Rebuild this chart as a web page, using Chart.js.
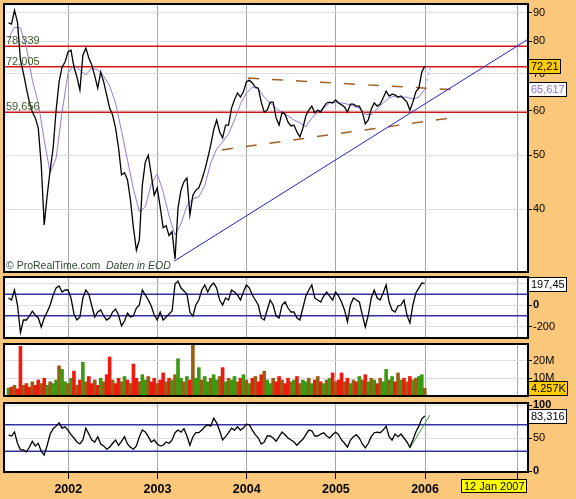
<!DOCTYPE html>
<html><head><meta charset="utf-8">
<script src="https://cdn.jsdelivr.net/npm/chart.js@4.4.0/dist/chart.umd.min.js"></script>
<style>
html,body{margin:0;padding:0;background:#fbc87b;}
#wrap{position:relative;width:576px;height:499px;overflow:hidden;background:#fbc87b;}
canvas{position:absolute;left:0;top:0;}
</style></head><body>
<div id="wrap">
<canvas id="c4" width="576" height="499"></canvas>
<canvas id="c3" width="576" height="499"></canvas>
<canvas id="c2" width="576" height="499"></canvas>
<canvas id="c1" width="576" height="499"></canvas>
</div>
<script>
// ---------------- DATA ----------------
const startYear = 2001.33;          // first sample date (decimal year)
const stepYears = 1/30;             // sample spacing (~12 days)
const yearTicks = [2002, 2003, 2004, 2005, 2006, 2007.04];
const priceTicks = [40, 50, 60, 70, 80, 90];
const cciTicks = [197.45, 0, -200];
const volTicks = [20, 10];
const stochTicks = [100, 50, 0];

const price = [86.2,85.8,90.8,86.5,74.0,70.1,65.9,62.2,59.7,58.3,
 55.9,48.0,37.5,42.4,47.0,51.5,60.2,67.6,71.9,73.4,
 76.5,77.1,71.9,69.0,65.4,75.5,77.7,74.6,72.5,69.3,
 65.9,70.4,67.6,64.1,60.7,59.0,55.9,51.5,46.1,46.5,
 45.2,41.6,37.1,33.8,35.3,44.2,48.6,50.0,46.1,42.4,
 43.7,40.4,37.1,37.4,35.9,36.5,32.6,40.2,43.3,44.8,
 45.5,39.1,42.4,43.3,43.7,45.2,47.0,49.4,52.1,55.5,
 57.8,55.0,53.7,56.6,56.6,60.7,62.8,64.6,63.5,64.9,
 67.6,68.1,67.3,66.2,65.9,62.2,59.7,60.2,62.2,62.2,
 58.3,56.6,59.7,59.2,57.3,56.4,56.6,55.0,53.9,55.9,
 58.8,60.2,61.2,59.5,60.2,59.7,61.0,62.0,62.2,62.0,
 62.8,62.0,61.5,61.0,59.7,61.7,61.7,61.2,61.2,59.7,
 56.9,57.8,60.5,62.0,61.2,61.7,63.3,65.1,63.8,64.3,
 64.1,63.5,63.8,63.0,62.2,60.2,62.2,64.9,65.9,70.4,
 72.2];

// moving average, one value every second sample
const movingAvg = [81.0,84.7,84.4,78.0,68.1,62.0,53.2,46.5,49.4,59.7,
 70.1,72.5,71.0,69.6,71.6,71.0,69.3,66.5,62.0,55.2,
 49.0,43.5,39.6,40.4,44.4,46.3,43.0,38.9,36.0,37.7,
 40.6,41.8,42.1,44.1,48.4,51.3,52.8,54.6,57.8,61.7,
 64.6,66.2,65.7,63.5,62.0,60.7,59.5,58.8,57.8,57.1,
 56.2,58.3,59.7,60.7,62.0,62.2,62.0,61.7,61.2,60.7,
 59.2,59.0,60.5,62.0,63.3,63.8,63.5,63.5,63.0,63.5,
 65.6];
const maForecast = [[2006.0, 66.2], [2006.06, 71.9]];

const levels = [78.339, 72.005, 59.656];
const levelLabels = ['78,339', '72,005', '59,656'];
const trendLine = [[2003.185, 32.3], [2007.154, 80.6]];
const channelUpper = [[2004.015, 68.7], [2006.291, 65.5]];
const channelLower = [[2003.723, 51.1], [2006.291, 58.3]];

const cci = [65,46,139,0,-255,-139,-139,-102,-56,-93,
 -120,-204,-120,-65,0,93,157,176,120,139,
 139,65,-83,-139,-111,65,139,102,-9,-111,
 -65,-46,-102,-139,-120,-65,-37,-93,-194,-148,
 -74,-111,-102,-28,0,139,93,46,-9,-93,
 -139,-65,-139,-111,-83,-56,194,222,157,130,
 102,-65,-102,0,46,139,185,120,176,204,
 157,46,0,65,46,139,120,93,46,120,
 185,157,93,46,0,-120,-139,-46,46,0,
 -102,-120,0,28,-28,-65,-65,-120,-139,-28,
 83,139,185,65,46,28,83,120,83,46,
 120,83,28,-46,-157,0,65,46,28,-93,
 -204,-93,65,139,65,46,111,185,28,-46,
 -65,-9,0,46,-93,-167,0,111,157,204,
 197];
const cciBands = [100, -100];

// volume in millions
const volume = [4.5,5,6,4,28,6,7,5,8,6,
 9,7,10,6,8,7,9,17,15,8,
 7,10,14,6,9,19,8,11,7,9,
 6,10,8,12,22,9,7,10,8,11,
 9,7,18,10,8,12,9,11,8,10,
 7,9,13,8,10,9,12,21,10,8,
 11,9,29,10,16,9,11,8,10,12,
 9,11,16,8,10,9,11,8,10,12,
 9,7,10,11,8,12,14,9,7,10,
 8,11,9,7,10,8,9,11,7,9,
 8,10,7,9,11,8,7,9,10,13,
 8,9,13,8,10,7,9,8,11,9,
 12,8,10,9,7,10,8,15,9,11,
 8,13,9,10,8,11,9,10,11,12,
 4.3];

const stoch = [54.5,53,59,42,32,32,29,36,45,38,
 42,30,24,39,56,64,68,73,65,67,
 62,55,50,44,41,47,65,56,47,44,
 52,41,38,33,36,42,47,39,45,52,
 41,36,33,38,52,62,59,52,44,47,
 41,38,39,44,42,47,58,62,59,64,
 53,39,52,58,58,62,67,70,68,80,
 73,61,47,52,58,65,62,67,62,65,
 71,70,62,55,50,41,44,53,53,50,
 45,52,59,55,50,47,44,39,44,48,
 55,62,61,53,53,56,58,53,50,55,
 59,55,47,42,36,47,52,55,50,41,
 35,42,52,58,59,58,62,68,52,47,
 56,52,56,50,44,36,47,59,68,79,
 83.3];
const stochBands = [70, 30];
const stochTrend = [[2005.83, 34.8], [2006.055, 84.8]];

const lastLabels = {price: 72.21, ma: 65.617, cci: 197.45, vol: 4.257, stoch: 83.316};
const lastTexts = {price: '72,21', ma: '65,617', cci: '197,45', vol: '4.257K', stoch: '83,316'};
const dateText = '12 Jan 2007';

// ---------------- LAYOUT ----------------
const W = 576, H = 499;
const X_MIN = 2001.279, X_MAX = 2007.154;
const FONT = '"Liberation Sans", Arial, sans-serif';
const panels = [ {top:4, bottom:272}, {top:277, bottom:338}, {top:344, bottom:396}, {top:403, bottom:472} ];

const xs = i => startYear + i * stepYears;
const series = arr => arr.map((v, i) => ({x: xs(i), y: v}));
const seg = pts => pts.map(p => ({x: p[0], y: p[1]}));
const hline = v => [{x: X_MIN, y: v}, {x: X_MAX, y: v}];

function xScale(show) {
  return {
    type: 'linear', min: X_MIN, max: X_MAX, offset: false,
    afterBuildTicks: s => { s.ticks = yearTicks.map(v => ({value: v})); },
    grid: {color: '#a6a6a6', lineWidth: 1, offset: false, drawTicks: show, tickLength: 7, tickColor: '#000'},
    border: {display: false},
    ticks: {display: show, color: '#000', padding: 3, autoSkip: false, maxRotation: 0,
      font: {family: FONT, size: 12.5, weight: 'bold'},
      callback: v => (v < 2007 ? String(v) : '')},
    afterFit: s => { s.height = show ? 27 : 0; s.paddingLeft = 0; s.paddingRight = 0; }
  };
}
function yScale(extra, tickVals, fmt, boldFn) {
  return Object.assign({
    position: 'right',
    afterBuildTicks: s => { s.ticks = tickVals.map(v => ({value: v})); },
    grid: {color: '#e0dde6', lineWidth: 1, tickLength: 4, tickColor: '#000'},
    border: {display: false},
    ticks: {color: '#000', padding: 1, autoSkip: false, callback: fmt,
      font: ctx => ({family: FONT, size: 11, weight: (boldFn && ctx.tick && boldFn(ctx.tick.value)) ? 'bold' : 'normal'})},
    afterFit: s => { s.width = 48; s.paddingTop = 0; s.paddingBottom = 0; }
  }, extra);
}
function pad(p, hasX) {
  return {left: 4, right: 0, top: p.top, bottom: hasX ? 0 : H - p.bottom};
}
function frame(ctx, a) {
  ctx.save(); ctx.strokeStyle = '#000'; ctx.lineWidth = 2;
  ctx.strokeRect(a.left, a.top, a.right - a.left, a.bottom - a.top); ctx.restore();
}
const whiteBg = {id: 'whiteBg', beforeDraw(c) {
  const a = c.chartArea, ctx = c.ctx;
  ctx.save(); ctx.fillStyle = '#ffffff'; ctx.fillRect(a.left, a.top, a.right - a.left, a.bottom - a.top); ctx.restore();
}};
function box(ctx, x, yc, text, bg, fg) {
  ctx.save();
  ctx.font = '11px ' + FONT;
  const w = Math.round(ctx.measureText(text).width) + 5;
  ctx.fillStyle = bg; ctx.fillRect(x, Math.round(yc) - 7, w, 15);
  ctx.strokeStyle = '#000'; ctx.lineWidth = 1; ctx.strokeRect(x + 0.5, Math.round(yc) - 6.5, w - 1, 14);
  ctx.fillStyle = fg; ctx.textBaseline = 'middle'; ctx.fillText(text, x + 3, Math.round(yc) + 1);
  ctx.restore();
}
const lineDS = (data, color, width, extra) => Object.assign({
  data, borderColor: color, borderWidth: width, pointRadius: 0, tension: 0, fill: false
}, extra || {});
const common = {responsive: false, animation: false, events: [], devicePixelRatio: 1,
  plugins: {legend: {display: false}, tooltip: {enabled: false}}};

// ---------------- PRICE PANEL ----------------
const maPts = movingAvg.map((v, k) => ({x: xs(2 * k), y: v}));
new Chart(document.getElementById('c1'), {
  type: 'line',
  data: {datasets: [
    lineDS(series(price), '#000', 1.3),
    lineDS(maPts, '#9479de', 1),
    lineDS(seg(maForecast), '#a897e6', 1, {borderDash: [3, 3]}),
    lineDS(seg(trendLine), '#2222c8', 1),
    lineDS(seg(channelUpper), '#9c6128', 1.5, {borderDash: [11, 13]}),
    lineDS(seg(channelLower), '#9c6128', 1.5, {borderDash: [11, 13]}),
    ...levels.map(v => lineDS(hline(v), '#d21414', 1.5))
  ]},
  options: Object.assign({}, common, {
    layout: {padding: pad(panels[0], false)},
    scales: {
      x: xScale(false),
      y: yScale({type: 'logarithmic', min: 30.9, max: 93.2}, priceTicks, v => String(v))
    }
  }),
  plugins: [whiteBg, {id: 'ov1', afterDraw(c) {
    const ctx = c.ctx, a = c.chartArea, y = c.scales.y;
    frame(ctx, a);
    ctx.save();
    ctx.font = '11px ' + FONT; ctx.fillStyle = '#3a5828'; ctx.textBaseline = 'alphabetic';
    levels.forEach((v, i) => ctx.fillText(levelLabels[i], 6, y.getPixelForValue(v) - 2));
    ctx.fillStyle = '#2f4a30'; ctx.font = '10.5px ' + FONT;
    ctx.fillText('\u00A9 ProRealTime.com', 6, 268.5);
    ctx.font = 'italic 10.5px ' + FONT;
    ctx.fillText('Daten in EOD', 106, 268.5);
    ctx.restore();
    box(ctx, 528, y.getPixelForValue(lastLabels.price), lastTexts.price, '#ffcc00', '#000');
    box(ctx, 528, y.getPixelForValue(lastLabels.ma), lastTexts.ma, '#ffffff', '#8a72d8');
  }}]
});

// ---------------- CCI PANEL ----------------
new Chart(document.getElementById('c2'), {
  type: 'line',
  data: {datasets: [
    lineDS(series(cci), '#000', 1.3),
    ...cciBands.map(v => lineDS(hline(v), '#3232a6', 1.5))
  ]},
  options: Object.assign({}, common, {
    layout: {padding: pad(panels[1], false)},
    scales: {
      x: xScale(false),
      y: yScale({type: 'linear', min: -305.6, max: 259.3}, cciTicks,
        v => (v === 197.45 ? '' : String(v)), v => v === 0)
    }
  }),
  plugins: [whiteBg, {id: 'ov2', afterDraw(c) {
    frame(c.ctx, c.chartArea);
    box(c.ctx, 528, c.scales.y.getPixelForValue(lastLabels.cci), lastTexts.cci, '#ffffff', '#000');
  }}]
});

// ---------------- VOLUME PANEL ----------------
const cGreen = '#3c9a12', cRed = '#ee1a0e', cBrown = '#9a5d12';
new Chart(document.getElementById('c3'), {
  type: 'bar',
  data: {datasets: [{
    data: series(volume),
    backgroundColor: ctx => {
      const i = ctx.dataIndex;
      if (i % 3 === 2) return cBrown;
      return (i === 0 || price[i] >= price[i - 1]) ? cGreen : cRed;
    },
    borderWidth: 0, barPercentage: 1, categoryPercentage: 1
  }]},
  options: Object.assign({}, common, {
    layout: {padding: pad(panels[2], false)},
    scales: {
      x: xScale(false),
      y: yScale({type: 'linear', min: 0, max: 29.3}, volTicks, v => v + 'M')
    }
  }),
  plugins: [whiteBg, {id: 'ov3', afterDraw(c) {
    frame(c.ctx, c.chartArea);
    box(c.ctx, 528, c.scales.y.getPixelForValue(lastLabels.vol), lastTexts.vol, '#ffcc00', '#000');
  }}]
});

// ---------------- STOCHASTIC PANEL ----------------
new Chart(document.getElementById('c4'), {
  type: 'line',
  data: {datasets: [
    lineDS(series(stoch), '#000', 1.3),
    lineDS(seg(stochTrend), '#3a9a3a', 1),
    ...stochBands.map(v => lineDS(hline(v), '#3232a6', 1.5))
  ]},
  options: Object.assign({}, common, {
    layout: {padding: pad(panels[3], true)},
    scales: {
      x: xScale(true),
      y: yScale({type: 'linear', min: -1.5, max: 103.03}, stochTicks, v => String(v), v => v !== 50)
    }
  }),
  plugins: [whiteBg, {id: 'ov4', afterDraw(c) {
    const ctx = c.ctx;
    frame(ctx, c.chartArea);
    box(ctx, 528, c.scales.y.getPixelForValue(lastLabels.stoch), lastTexts.stoch, '#ffffff', '#000');
    ctx.save();
    ctx.font = '11px ' + FONT;
    const w = Math.round(ctx.measureText(dateText).width) + 5;
    ctx.fillStyle = '#ffff00'; ctx.fillRect(527 - w, 479, w, 14);
    ctx.strokeStyle = '#000'; ctx.lineWidth = 1; ctx.strokeRect(527.5 - w, 479.5, w - 1, 13);
    ctx.fillStyle = '#000'; ctx.textBaseline = 'middle'; ctx.fillText(dateText, 530 - w, 487);
    ctx.restore();
  }}]
});
</script>
</body></html>
